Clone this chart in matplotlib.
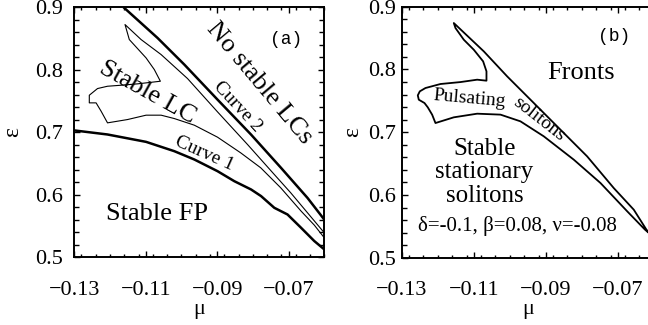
import matplotlib
matplotlib.use("Agg")
import matplotlib.pyplot as plt
from matplotlib.ticker import MultipleLocator

plt.rcParams['font.family'] = ['Liberation Serif', 'DejaVu Serif']
plt.rcParams['mathtext.fontset'] = 'stix'

# axis ticks
mu_ticks = [-0.13, -0.11, -0.09, -0.07]
mu_labels = ['\u22120.13', '\u22120.11', '\u22120.09', '\u22120.07']
eps_ticks = [0.5, 0.6, 0.7, 0.8, 0.9]
eps_labels = ['0.5', '0.6', '0.7', '0.8', '0.9']

# panel (a): curve 1 (thick, lower)
c1_mu = [-0.13, -0.1207, -0.1099, -0.102, -0.0964, -0.0899, -0.0852, -0.0805,
         -0.0777, -0.074, -0.0703, -0.0665, -0.0628, -0.06]
c1_eps = [0.703, 0.6965, 0.6847, 0.6698, 0.6565, 0.6378, 0.6218, 0.6085,
          0.5979, 0.5792, 0.5685, 0.5472, 0.526, 0.5126]

# panel (a): upper thick boundary (no stable LCs)
top_mu = [-0.116, -0.1067, -0.0992, -0.0899, -0.0805, -0.0721, -0.0647, -0.06]
top_eps = [0.899, 0.851, 0.8084, 0.7523, 0.6963, 0.643, 0.595, 0.5603]

# panel (a): stable LC region outline (thin, curve 2 on top side)
lc_mu = [-0.06, -0.0647, -0.0694, -0.074, -0.0815, -0.0899, -0.0983, -0.1057,
         -0.1113, -0.1158, -0.1146, -0.1099, -0.1076, -0.1059, -0.1123, -0.1169,
         -0.1207, -0.1235, -0.1258, -0.1258, -0.1239, -0.1225, -0.1207, -0.1151,
         -0.1099, -0.1057, -0.102, -0.0964, -0.0899, -0.0834, -0.0778, -0.0722,
         -0.0665, -0.0628, -0.06]
lc_eps = [0.5392, 0.5712, 0.6032, 0.6325, 0.6805, 0.7327, 0.786, 0.8244,
          0.8484, 0.8724, 0.8484, 0.819, 0.8004, 0.7817, 0.7775, 0.7753,
          0.7737, 0.77, 0.7593, 0.7471, 0.7471, 0.7338, 0.7151, 0.7204,
          0.7274, 0.7274, 0.722, 0.7114, 0.6922, 0.6671, 0.6432, 0.6112,
          0.5739, 0.5515, 0.5312]

# panel (b): pulsating soliton region outline
ps_mu = [-0.0605, -0.06204, -0.06556, -0.07111, -0.07852, -0.08593, -0.09333,
         -0.10074, -0.10722, -0.11556, -0.11509, -0.11278, -0.11, -0.10741,
         -0.10648, -0.10648, -0.10907, -0.1137, -0.11926, -0.12343, -0.125,
         -0.12556, -0.12528, -0.1237, -0.12278, -0.12157, -0.12065, -0.11556,
         -0.10907, -0.10259, -0.09704, -0.09056, -0.08222, -0.07481, -0.0674,
         -0.0625, -0.0605]
ps_eps = [0.535, 0.5446, 0.5765, 0.6109, 0.6615, 0.704, 0.7465,
          0.789, 0.8288, 0.874, 0.866, 0.8474, 0.8314, 0.8129,
          0.797, 0.7821, 0.7837, 0.7799, 0.7768, 0.7704, 0.7651,
          0.7587, 0.7518, 0.7465, 0.7396, 0.7279, 0.7146, 0.7237,
          0.7295, 0.728, 0.7173, 0.6934, 0.6562, 0.619, 0.574,
          0.545, 0.535]

W, H = 648, 325
fig = plt.figure(figsize=(W / 100, H / 100), dpi=100)
ax1 = fig.add_axes([74.3 / W, (H - 257.3) / H, 250 / W, 250 / H])
ax2 = fig.add_axes([401.8 / W, (H - 257.7) / H, 252 / W, 251 / H])


def style_axes(ax, ypad, ylabelpad):
    ax.set_xlim(-0.13, -0.06)
    ax.set_ylim(0.5, 0.9)
    ax.set_xticks(mu_ticks)
    ax.set_xticklabels(mu_labels)
    ax.set_yticks(eps_ticks)
    ax.set_yticklabels(eps_labels)
    ax.xaxis.set_minor_locator(MultipleLocator(0.004))
    ax.yaxis.set_minor_locator(MultipleLocator(0.02))
    ax.tick_params(which='both', direction='in', top=True, right=True,
                   labelsize=16, width=1.0, color='black')
    ax.tick_params(axis='x', which='major', length=4, pad=17)
    ax.tick_params(axis='x', which='minor', length=2.5)
    ax.tick_params(axis='y', which='major', length=4.5, pad=ypad)
    ax.tick_params(axis='y', which='minor', length=3.5)
    for s in ax.spines.values():
        s.set_linewidth(1.4)
    ax.set_xlabel('\u03bc', fontsize=16, labelpad=0)
    ax.set_ylabel('\u03b5', fontsize=17, labelpad=ylabelpad)


style_axes(ax1, 8, 9)
ax1.plot(c1_mu, c1_eps, color='black', lw=1.8)
ax1.plot(top_mu, top_eps, color='black', lw=1.8)
ax1.plot(lc_mu, lc_eps, color='black', lw=0.8)
ax1.text(-0.0708, 0.848, '(a)', family='Liberation Mono', fontsize=13,
         ha='center', va='center')
ax1.text(-0.0783, 0.779, 'No stable LCs', fontsize=19, rotation=-50,
         rotation_mode='anchor', ha='center', va='center')
ax1.text(-0.0844, 0.7416, 'Curve 2', fontsize=14, rotation=-47,
         rotation_mode='anchor', ha='center', va='center')
ax1.text(-0.1096, 0.763, 'Stable LC', fontsize=19, rotation=-29,
         rotation_mode='anchor', ha='center', va='center')
ax1.text(-0.0935, 0.6658, 'Curve 1', fontsize=14, rotation=-24,
         rotation_mode='anchor', ha='center', va='center')
ax1.text(-0.1068, 0.5693, 'Stable FP', fontsize=19, ha='center', va='center')

style_axes(ax2, 4, 4)
ax2.plot(ps_mu, ps_eps, color='black', lw=1.3)
ax2.text(-0.071, 0.8528, '(b)', family='Liberation Mono', fontsize=13,
         ha='center', va='center')
ax2.text(-0.0803, 0.7943, 'Fronts', fontsize=19, ha='center', va='center')
ax2.text(-0.1111, 0.7534, 'Pulsating', fontsize=14, rotation=-5,
         rotation_mode='anchor', ha='center', va='center')
ax2.text(-0.0918, 0.72, 'solitons', fontsize=14, rotation=-38,
         rotation_mode='anchor', ha='center', va='center')
ax2.text(-0.107, 0.636, 'Stable\nstationary\nsolitons', fontsize=18,
         ha='center', va='center', linespacing=1.1)
ax2.text(-0.0979, 0.55, '\u03b4=-0.1, \u03b2=0.08, \u03bd=-0.08', fontsize=15,
         ha='center', va='center')

fig.savefig('out.png', dpi=100)
